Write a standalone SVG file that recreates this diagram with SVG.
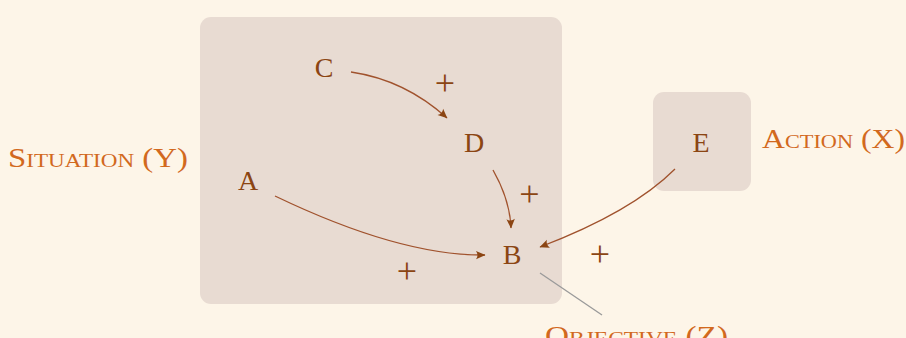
<svg xmlns="http://www.w3.org/2000/svg" width="906" height="338" viewBox="0 0 906 338">
<style>
.bg{fill:#fdf5e8}
.box{fill:#e8dbd2}
.node{font-family:"Liberation Serif","DejaVu Serif",serif;font-size:28px;fill:#8b4513;text-anchor:middle}
.plus{font-family:"Liberation Serif","DejaVu Serif",serif;font-size:36px;fill:#8b4513;text-anchor:middle}
.lab{font-family:"Liberation Serif","DejaVu Serif",serif;font-size:27px;fill:#d2691e;font-variant:small-caps}
.edge{fill:none;stroke:#a0522d;stroke-width:1.3;marker-end:url(#ah)}
</style>
<defs>
<marker id="ah" viewBox="-10 -5 11 10" refX="0" refY="0" markerWidth="11" markerHeight="10" markerUnits="userSpaceOnUse" orient="auto">
<path d="M0.5,0 L-9,-4.2 Q-6,0 -9,4.2 Z" fill="#8b4513"/>
</marker>
</defs>
<rect class="bg" x="0" y="0" width="906" height="338"/>
<g id="situation">
<rect class="box" x="200" y="17" width="362" height="287" rx="11"/>
<text class="lab" x="8" y="167" textLength="180" lengthAdjust="spacingAndGlyphs">Situation (Y)</text>
</g>
<g id="action">
<rect class="box" x="653" y="92" width="98" height="99" rx="11"/>
<text class="lab" x="762" y="148" textLength="143" lengthAdjust="spacingAndGlyphs">Action (X)</text>
</g>
<g id="objective">
<text class="lab" x="545" y="345" textLength="183" lengthAdjust="spacingAndGlyphs">Objective (Z)</text>
</g>
<g id="A"><text class="node" x="248" y="190">A</text></g>
<g id="B"><text class="node" x="512" y="264">B</text></g>
<g id="C"><text class="node" x="324" y="77">C</text></g>
<g id="D"><text class="node" x="474" y="152">D</text></g>
<g id="E"><text class="node" x="701" y="152">E</text></g>
<g id="connectors">
<path class="edge" d="M351,72 Q405,80 447,118"/>
<path class="edge" d="M493,170 Q510,200 511,228"/>
<path class="edge" d="M275,196 Q400,256 485,255"/>
<path class="edge" d="M675,169 Q632,212 540,247"/>
<line x1="540" y1="273" x2="602" y2="315" stroke="#9a9a9a" stroke-width="1.3"/>
<text class="plus" x="445" y="95">+</text>
<text class="plus" x="529.5" y="206">+</text>
<text class="plus" x="407" y="282.5">+</text>
<text class="plus" x="600" y="265.5">+</text>
</g>
</svg>
